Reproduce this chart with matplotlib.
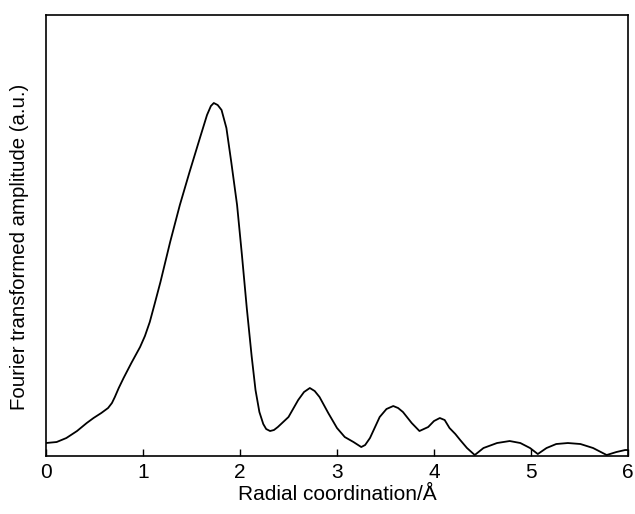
import matplotlib.pyplot as plt

plt.rcParams["font.family"] = ["Liberation Sans", "DejaVu Sans"]

# radial distance (Å) and FT amplitude (a.u.)
r = [0.0, 0.11, 0.21, 0.32, 0.42, 0.49, 0.57, 0.64, 0.68, 0.71, 0.75, 0.8, 0.88, 0.97,
     1.02, 1.07, 1.12, 1.18, 1.28, 1.38, 1.48, 1.59, 1.66, 1.7, 1.73, 1.77, 1.81, 1.86,
     1.91, 1.97, 2.02, 2.07, 2.12, 2.16, 2.2, 2.24, 2.27, 2.31, 2.35, 2.39,
     2.5, 2.6, 2.66, 2.72, 2.77, 2.82, 2.91, 3.0, 3.08, 3.17, 3.25, 3.29,
     3.34, 3.44, 3.51, 3.58, 3.63, 3.68, 3.77, 3.85, 3.94, 4.0, 4.06, 4.11,
     4.16, 4.22, 4.27, 4.34, 4.42, 4.51, 4.65, 4.78, 4.89, 4.99, 5.07, 5.16,
     5.26, 5.38, 5.51, 5.64, 5.78, 5.88, 5.97, 6.0]
amp = [13, 14, 18, 25, 33, 38, 43, 48, 53, 59, 68, 78, 93, 109,
       120, 134, 152, 174, 214, 251, 284, 319, 341, 350, 353, 351, 346, 328,
       294, 251, 201, 148, 100, 66, 44, 32, 27, 25, 26, 29,
       39, 56, 64, 68, 65, 59, 43, 28, 19, 14, 9, 11,
       18, 39, 47, 50, 48, 44, 33, 25, 29, 35, 38, 36,
       28, 22, 16, 8, 1, 8, 13, 15, 13, 8, 2, 8,
       12, 13, 12, 8, 1, 4, 6, 6]

fig = plt.figure(figsize=(6.35, 5.14), dpi=100)
ax = fig.add_axes([0.0724, 0.1128, 0.9166, 0.858])
ax.plot(r, amp, color="black", lw=1.3, solid_joinstyle="round")

ax.set_xlim(0, 6)
ax.set_ylim(0, 441)
ax.set_yticks([])
ax.set_xticks(range(7))
ax.tick_params(axis="x", direction="in", length=5, width=1, labelsize=15, pad=5)
for s in ax.spines.values():
    s.set_linewidth(1.2)

ax.set_xlabel("Radial coordination/Å", fontsize=15, labelpad=2)
ax.set_ylabel("Fourier transformed amplitude (a.u.)", fontsize=14.7)
ax.yaxis.set_label_coords(-0.029, 0.474)

plt.savefig("out.png", dpi=100)
